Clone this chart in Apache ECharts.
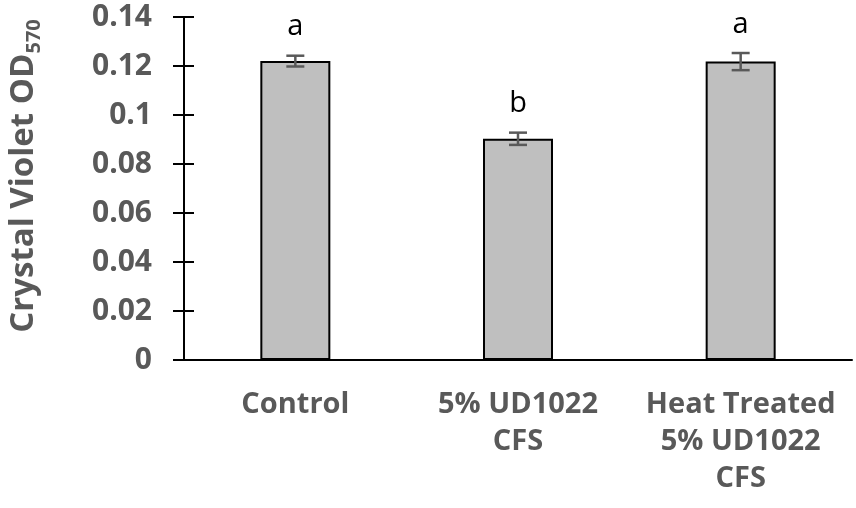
<!doctype html>
<html lang="en">
<head>
    <meta charset="utf-8">
    <title>Crystal Violet OD570</title>
    <style>
        html, body { margin: 0; padding: 0; background: #fff; }
        #chart { width: 856px; height: 508px; }
    </style>
</head>
<body>
    <div id="chart"></div>
    <script src="https://cdn.jsdelivr.net/npm/echarts@6/dist/echarts.min.js"></script>
    <script>
        var categories = ['Control', '5% UD1022\nCFS', 'Heat Treated\n5% UD1022\nCFS'];
        var means = [0.1220, 0.0903, 0.1218];
        var errors = [0.0022, 0.0025, 0.0035];
        var letters = ['a', 'b', 'a'];
        var yTitle = 'Crystal Violet OD';
        var yTitleSub = '570';

        var labelColor = '#595959';
        var fontFamily = '"Open Sans", "DejaVu Sans", sans-serif';

        var chart = echarts.init(document.getElementById('chart'));

        var errData = means.map(function (m, i) {
            return [i, m - errors[i], m + errors[i], letters[i]];
        });

        chart.setOption({
            animation: false,
            backgroundColor: '#fff',
            grid: { left: 184, right: 4, top: 17, bottom: 148, containLabel: false, outerBoundsMode: 'none' },
            // y axis title, rotated, with a subscript
            graphic: [{
                type: 'text',
                x: 24,
                y: 176,
                rotation: Math.PI / 2,
                style: {
                    text: '{m|' + yTitle + '}{s|' + yTitleSub + '}',
                    align: 'center',
                    verticalAlign: 'middle',
                    rich: {
                        m: { fontSize: 33, fontWeight: 'bold', fill: labelColor, fontFamily: fontFamily, lineHeight: 40 },
                        s: { fontSize: 20, fontWeight: 'bold', fill: labelColor, fontFamily: fontFamily, lineHeight: 20, verticalAlign: 'bottom' }
                    }
                }
            }],
            xAxis: {
                type: 'category',
                data: categories,
                axisLine: { lineStyle: { color: '#000', width: 2 } },
                axisTick: { show: false },
                axisLabel: {
                    interval: 0,
                    margin: 26,
                    color: labelColor,
                    fontFamily: fontFamily,
                    fontWeight: 'bold',
                    fontSize: 29,
                    lineHeight: 37
                }
            },
            yAxis: [{
                type: 'value',
                min: 0,
                max: 0.14,
                interval: 0.02,
                axisLine: { show: true, lineStyle: { color: '#000', width: 2 } },
                axisTick: { show: true, length: 11, lineStyle: { color: '#000', width: 2 } },
                splitLine: { show: false },
                axisLabel: {
                    margin: 32,
                    color: labelColor,
                    fontFamily: fontFamily,
                    fontWeight: 'bold',
                    fontSize: 30
                }
            }, {
                type: 'value',
                position: 'left',
                min: 0,
                max: 0.14,
                interval: 0.02,
                axisLine: { show: false },
                axisTick: { show: true, inside: true, length: 10, lineStyle: { color: '#000', width: 2 } },
                axisLabel: { show: false },
                splitLine: { show: false }
            }],
            series: [{
                type: 'bar',
                data: means,
                barWidth: 70,
                itemStyle: { color: '#bfbfbf', borderColor: '#000', borderWidth: 2 }
            }, {
                type: 'custom',
                data: errData,
                encode: { x: 0, y: [1, 2] },
                z: 10,
                renderItem: function (params, api) {
                    var x = api.coord([api.value(0), 0])[0];
                    var lo = api.coord([api.value(0), api.value(1)])[1];
                    var hi = api.coord([api.value(0), api.value(2)])[1];
                    var cap = 9;
                    var style = { stroke: labelColor, lineWidth: 2.5 };
                    return {
                        type: 'group',
                        children: [
                            { type: 'line', shape: { x1: x, y1: lo, x2: x, y2: hi }, style: style },
                            { type: 'line', shape: { x1: x - cap, y1: lo, x2: x + cap, y2: lo }, style: style },
                            { type: 'line', shape: { x1: x - cap, y1: hi, x2: x + cap, y2: hi }, style: style },
                            {
                                type: 'text',
                                style: {
                                    x: x,
                                    y: hi - 14,
                                    text: api.value(3),
                                    fill: '#000',
                                    font: '29px ' + fontFamily,
                                    textAlign: 'center',
                                    textVerticalAlign: 'bottom'
                                }
                            }
                        ]
                    };
                }
            }]
        });
    </script>
</body>
</html>
